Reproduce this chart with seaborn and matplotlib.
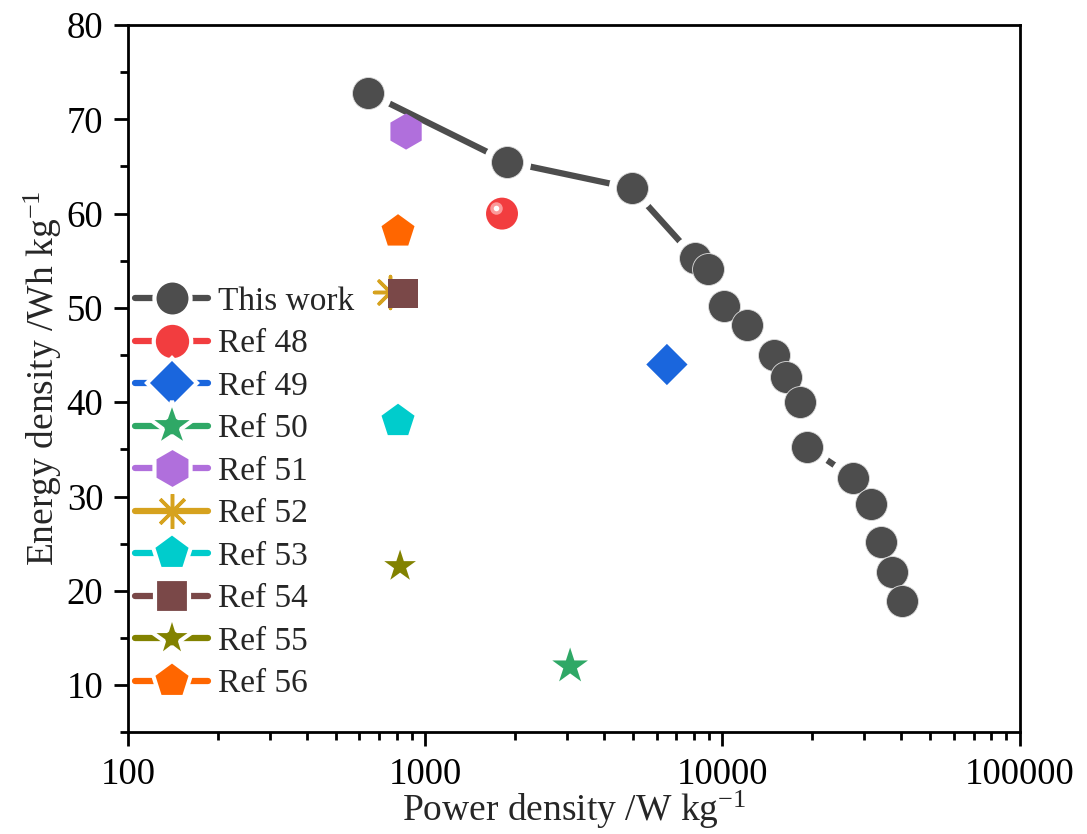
import numpy as np
import pandas as pd
import matplotlib
matplotlib.use("Agg")
import matplotlib.pyplot as plt
import matplotlib.transforms as mtransforms
from matplotlib.lines import Line2D
from matplotlib.ticker import FixedLocator, NullFormatter, LogLocator
import seaborn as sns

# ---------------- data ----------------
work_power = [641, 1884, 4955, 8070, 8930, 10100, 12080, 14890, 16340, 18200,
              19230, 27470, 31560, 34110, 37150, 40120]
work_energy = [72.8, 65.5, 62.7, 55.3, 54.1, 50.2, 48.2, 45.0, 42.7, 40.0,
               35.3, 32.0, 29.2, 25.2, 22.0, 18.9]

ref_labels = ["Ref 48", "Ref 49", "Ref 50", "Ref 51", "Ref 52",
              "Ref 53", "Ref 54", "Ref 55", "Ref 56"]
ref_power = [1811, 6500, 3070, 861, 760, 809, 841, 822, 809]
ref_energy = [60.0, 44.0, 12.0, 68.7, 51.7, 38.0, 51.5, 22.6, 58.1]

work_label = "This work"
x_label = "Power density /W kg$^{-1}$"
y_label = "Energy density /Wh kg$^{-1}$"
x_ticks = [100, 1000, 10000, 100000]
y_ticks = [10, 20, 30, 40, 50, 60, 70, 80]

# ---------------- styles ----------------
work_color = "#4d4d4d"
ref_colors = ["#f23d3f", "#1a66dd", "#2fa866", "#b06fdc", "#d6a21e",
              "#00cccc", "#7a4848", "#828200", "#ff6600"]
ref_markers = ["o", "D", "*", "h", (8, 2, 0), "p", "s", "*", "p"]
ref_sizes = [23, 21, 27, 26, 23, 25, 21, 24, 25]

sns.set_style("ticks")
plt.rcParams["font.family"] = ["Liberation Serif", "DejaVu Serif"]
plt.rcParams["mathtext.fontset"] = "custom"
plt.rcParams["mathtext.rm"] = "Liberation Serif"
plt.rcParams["mathtext.it"] = "Liberation Serif:italic"

fig = plt.figure(figsize=(10.87, 8.34), dpi=100)
ax = fig.add_axes([0.118, 0.122, 0.820, 0.848])

df_work = pd.DataFrame({"power": work_power, "energy": work_energy})

# connecting line with a gap around each symbol
sns.lineplot(data=df_work, x="power", y="energy", ax=ax, color=work_color,
             linewidth=4.5, marker="o", markersize=34, markerfacecolor="white",
             markeredgewidth=0, sort=False, legend=False, zorder=2)
sns.scatterplot(data=df_work, x="power", y="energy", ax=ax, color=work_color,
                s=23 ** 2, edgecolor="#dddddd", linewidth=0.6, legend=False,
                zorder=3)

# reference points
for lab, xp, yp, c, m, sz in zip(ref_labels, ref_power, ref_energy,
                                 ref_colors, ref_markers, ref_sizes):
    d = pd.DataFrame({"power": [xp], "energy": [yp]})
    if isinstance(m, tuple):
        sns.scatterplot(data=d, x="power", y="energy", ax=ax, marker=m,
                        s=sz ** 2, color=c, edgecolor=c, linewidth=2.5,
                        legend=False, zorder=3)
    else:
        sns.scatterplot(data=d, x="power", y="energy", ax=ax, marker=m,
                        s=sz ** 2, color=c, edgecolor="none", linewidth=0,
                        legend=False, zorder=4)

# specular highlight for the "sphere" of Ref 48
hl = mtransforms.offset_copy(ax.transData, fig=fig, x=-4, y=4, units="points")
ax.plot([ref_power[0]], [ref_energy[0]], marker="o", markersize=9,
        color="#fb9a9a", markeredgewidth=0, transform=hl, zorder=5)
ax.plot([ref_power[0]], [ref_energy[0]], marker="o", markersize=4,
        color="white", markeredgewidth=0, transform=hl, zorder=6)

# ---------------- axes ----------------
ax.set_xscale("log")
ax.set_xlim(100, 100000)
ax.set_ylim(5, 80)
ax.xaxis.set_major_locator(FixedLocator(x_ticks))
ax.set_xticklabels([str(t) for t in x_ticks])
ax.xaxis.set_minor_locator(LogLocator(base=10, subs=np.arange(2, 10)))
ax.xaxis.set_minor_formatter(NullFormatter())
ax.yaxis.set_major_locator(FixedLocator(y_ticks))
ax.set_yticklabels([str(t) for t in y_ticks])
ax.yaxis.set_minor_locator(FixedLocator(np.arange(5, 81, 5)))

ax.tick_params(axis="both", which="major", direction="out", length=10,
               width=2, labelsize=26.5, colors="black", pad=8)
ax.tick_params(axis="both", which="minor", direction="out", length=6,
               width=2, colors="black")
ax.tick_params(top=False, right=False, which="both")
for s in ax.spines.values():
    s.set_visible(True)
    s.set_linewidth(2)
    s.set_color("black")

ax.set_xlabel(x_label, fontsize=27, labelpad=-2)
ax.set_ylabel(y_label, fontsize=27, labelpad=2)

# ---------------- legend ----------------
handles = [Line2D([], [], color=work_color, linewidth=4.5, marker="o",
                  markersize=26, markerfacecolor=work_color,
                  markeredgecolor="white", markeredgewidth=3)]
labels = [work_label]
for lab, c, m, sz in zip(ref_labels, ref_colors, ref_markers, ref_sizes):
    if isinstance(m, tuple):
        h = Line2D([], [], color=c, linewidth=4.5, marker=m, markersize=sz + 2,
                   markeredgecolor=c, markeredgewidth=2.5)
    else:
        extra = 9 if m == "*" else 4
        h = Line2D([], [], color=c, linewidth=4.5, marker=m,
                   markersize=sz + extra, markerfacecolor=c,
                   markeredgecolor="white", markeredgewidth=3)
    handles.append(h)
    labels.append(lab)

leg = ax.legend(handles, labels, loc="upper left", bbox_to_anchor=(0.0, 0.64),
                frameon=False, fontsize=24, handlelength=2.2,
                handletextpad=0.3, labelspacing=0.36, borderpad=0,
                borderaxespad=0.2)

fig.savefig("out.png", dpi=100)
